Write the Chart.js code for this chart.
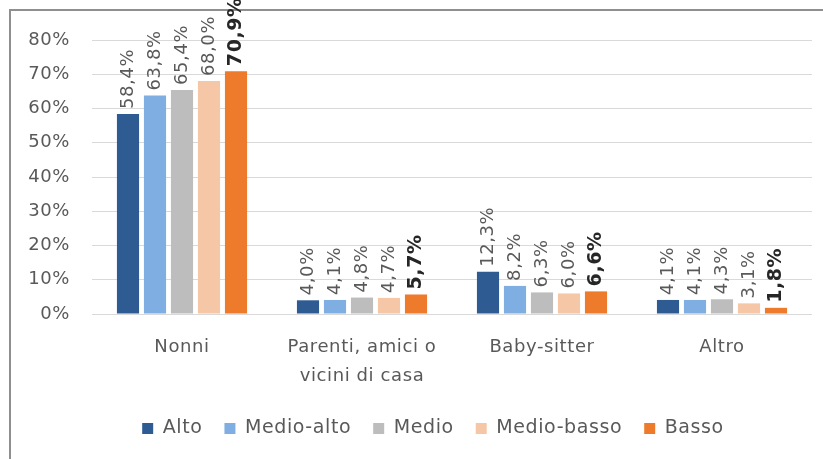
<!DOCTYPE html>
<html>
<head>
<meta charset="utf-8">
<script src="https://cdn.jsdelivr.net/npm/chart.js@4/dist/chart.umd.min.js"></script>
<style>
  html, body { margin: 0; padding: 0; background: #fff; }
  #wrap { position: relative; width: 823px; height: 459px; overflow: hidden; }
  #frame { position: absolute; left: 9px; top: 9px; width: 900px; height: 500px;
           border-left: 2px solid #8f8f8f; border-top: 2px solid #8f8f8f; }
  canvas { position: absolute; left: 0; top: 0; }
</style>
</head>
<body>
<div id="wrap">
  <div id="frame"></div>
  <canvas id="chart" width="823" height="459"></canvas>
</div>
<script>
document.addEventListener('DOMContentLoaded', function () {
    const categories = ['Nonni', ['Parenti, amici o', 'vicini di casa'], 'Baby-sitter', 'Altro'];
    const seriesNames = ['Alto', 'Medio-alto', 'Medio', 'Medio-basso', 'Basso'];
    const alto = [58.4, 4.0, 12.3, 4.1];
    const medioAlto = [63.8, 4.1, 8.2, 4.1];
    const medio = [65.4, 4.8, 6.3, 4.3];
    const medioBasso = [68.0, 4.7, 6.0, 3.1];
    const basso = [70.9, 5.7, 6.6, 1.8];
    const yTicks = [0, 10, 20, 30, 40, 50, 60, 70, 80];

    const colors = ['#2E5B92', '#7FAEE3', '#BDBDBD', '#F6C7A6', '#EE7A2C'];
    const fontFamily = '"DejaVu Sans", sans-serif';
    const textGrey = '#595959';
    const spacing = '0.6px';

    const allSeries = [alto, medioAlto, medio, medioBasso, basso];

    // the reference text is a bit wider than DejaVu, so spread it a little
    const wideText = {
        id: 'wideText',
        beforeLayout(chart) { chart.ctx.letterSpacing = spacing; },
        beforeDraw(chart) { chart.ctx.letterSpacing = spacing; }
    };

    // legend sits centred under the plot, not under the whole canvas
    const legendShift = {
        id: 'legendShift',
        afterLayout(chart) { chart.legend.left += 42; }
    };

    // rotated value labels above each bar
    const barLabels = {
        id: 'barLabels',
        afterDatasetsDraw(chart) {
            const ctx = chart.ctx;
            chart.data.datasets.forEach((ds, i) => {
                const meta = chart.getDatasetMeta(i);
                const last = i === chart.data.datasets.length - 1;
                meta.data.forEach((bar, j) => {
                    const txt = ds.data[j].toFixed(1).replace('.', ',') + '%';
                    ctx.save();
                    ctx.translate(bar.x, bar.y - 5);
                    ctx.rotate(-Math.PI / 2);
                    ctx.font = (last ? 'bold 19px ' : '18px ') + fontFamily;
                    ctx.fillStyle = last ? '#262626' : textGrey;
                    ctx.textAlign = 'left';
                    ctx.textBaseline = 'middle';
                    ctx.fillText(txt, 0, 0);
                    ctx.restore();
                });
            });
        }
    };

    new Chart(document.getElementById('chart').getContext('2d'), {
        type: 'bar',
        data: {
            labels: categories,
            datasets: seriesNames.map((name, i) => ({
                label: name,
                data: allSeries[i],
                backgroundColor: colors[i],
                borderWidth: 0,
                categoryPercentage: 0.75,
                barPercentage: 0.82
            }))
        },
        options: {
            responsive: false,
            animation: false,
            layout: { padding: { left: 12, right: 11, top: 40, bottom: 11 } },
            scales: {
                x: {
                    afterFit: (axis) => { axis.height = 83; },
                    grid: { display: false },
                    border: { display: false },
                    ticks: {
                        color: textGrey,
                        font: { family: fontFamily, size: 18, lineHeight: 1.65 },
                        padding: 10,
                        maxRotation: 0,
                        autoSkip: false
                    }
                },
                y: {
                    min: 0,
                    max: 80,
                    afterBuildTicks: (axis) => { axis.ticks = yTicks.map(v => ({ value: v })); },
                    afterFit: (axis) => { axis.width = 80; },
                    grid: { color: '#d9d9d9', lineWidth: 1, drawTicks: false },
                    border: { display: false },
                    ticks: {
                        color: textGrey,
                        font: { family: fontFamily, size: 18 },
                        padding: 22,
                        callback: (v) => v + '%'
                    }
                }
            },
            plugins: {
                legend: {
                    position: 'bottom',
                    labels: {
                        color: textGrey,
                        font: { family: fontFamily, size: 19 },
                        boxWidth: 11,
                        boxHeight: 11,
                        padding: 22
                    }
                },
                tooltip: { enabled: false }
            }
        },
        plugins: [wideText, legendShift, barLabels]
    });
});
</script>
</body>
</html>
